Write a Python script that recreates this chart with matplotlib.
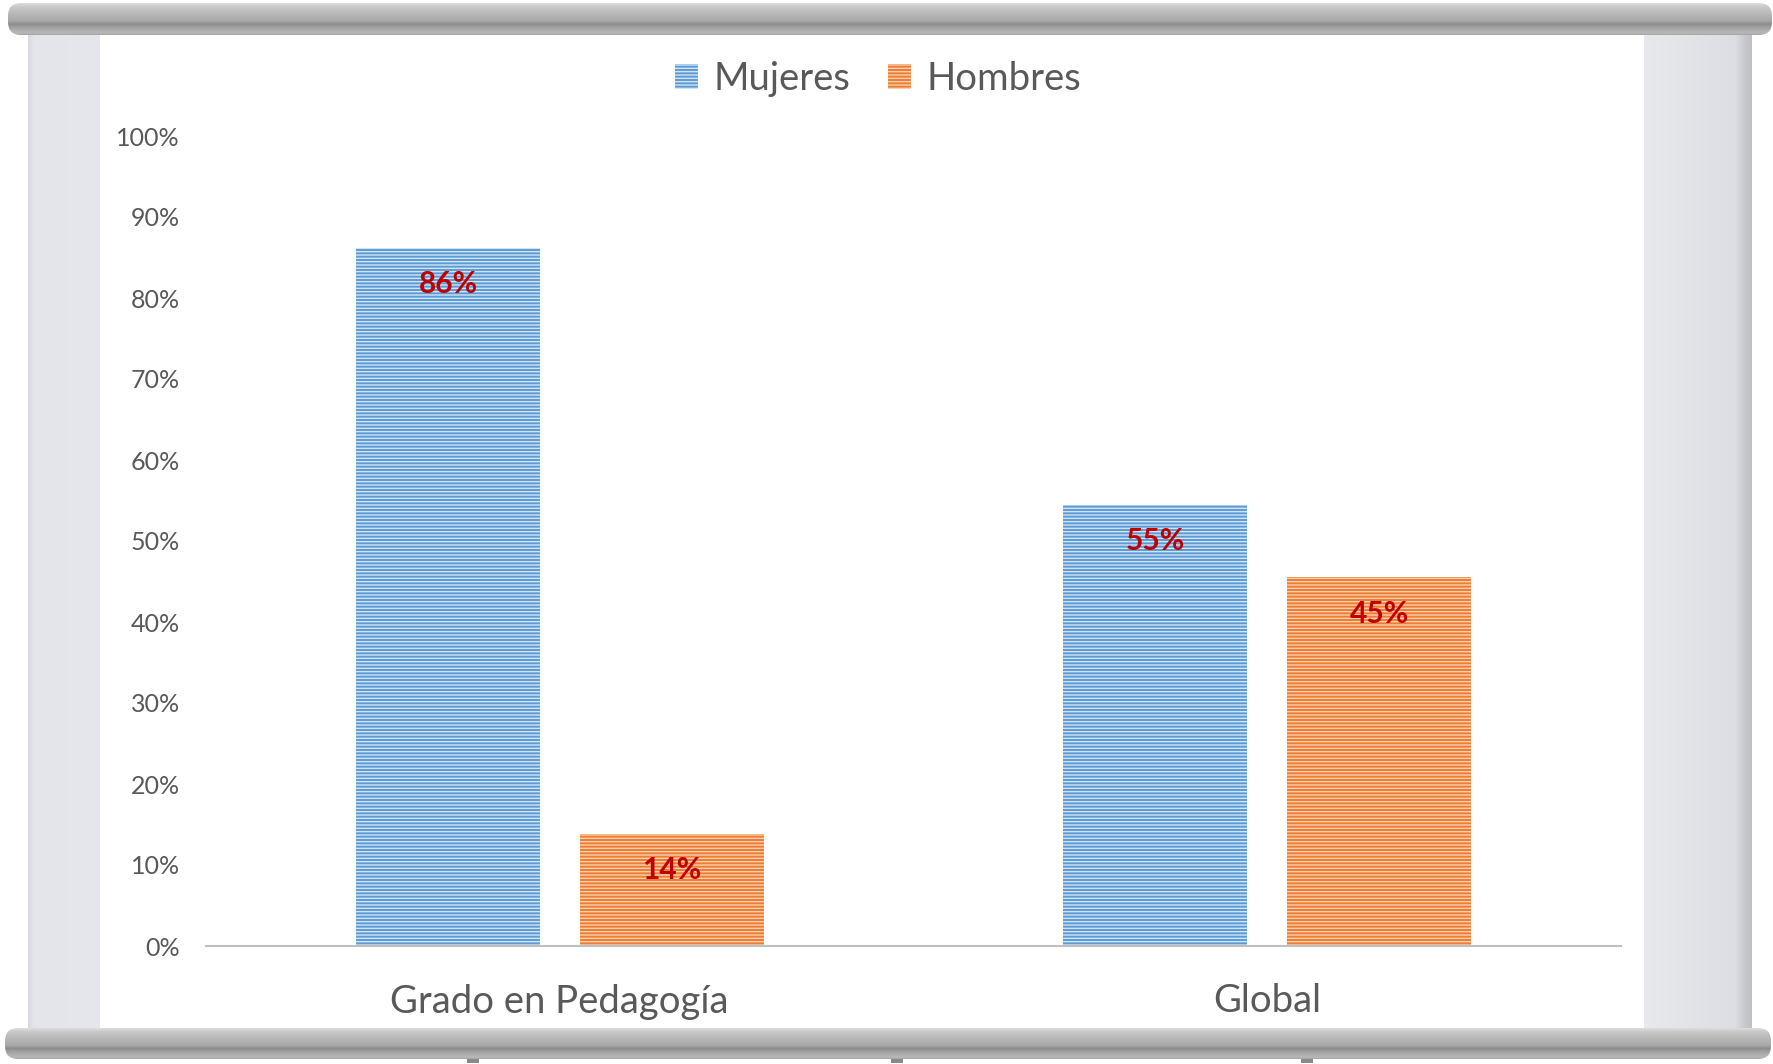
import numpy as np
import matplotlib
matplotlib.use("Agg")
import matplotlib.pyplot as plt
from matplotlib.patches import Rectangle, FancyBboxPatch, Patch
from matplotlib.colors import LinearSegmentedColormap
from matplotlib.ticker import PercentFormatter

# ---- data ----
categories = ["Grado en Pedagogía", "Global"]
series_names = ["Mujeres", "Hombres"]
mujeres = [0.862, 0.545]
hombres = [0.138, 0.455]
labels_mujeres = ["86%", "55%"]
labels_hombres = ["14%", "45%"]
yticks = [i / 10 for i in range(11)]

W, H = 1774, 1064
plt.rcParams["font.family"] = ["Lato", "DejaVu Sans"]
plt.rcParams["hatch.linewidth"] = 1.0
fig = plt.figure(figsize=(W / 100, H / 100), dpi=100)
fig.patch.set_facecolor("white")

# ---- background "projector screen" frame ----
bg = fig.add_axes([0, 0, 1, 1], zorder=-5)
bg.set_xlim(0, W)
bg.set_ylim(H, 0)
bg.axis("off")


def grad_patch(x0, y0, x1, y1, stops, rounding=0, horizontal=False, z=1):
    pos = [s[0] for s in stops]
    cols = [s[1] for s in stops]
    cmap = LinearSegmentedColormap.from_list("g", list(zip(pos, cols)))
    n = 256
    arr = np.linspace(0, 1, n)
    arr = arr[None, :] if horizontal else arr[:, None]
    im = bg.imshow(arr, cmap=cmap, extent=(x0, x1, y1, y0), aspect="auto",
                   interpolation="bilinear", zorder=z, vmin=0, vmax=1)
    if rounding:
        p = FancyBboxPatch((x0, y0), x1 - x0, y1 - y0,
                           boxstyle=f"round,pad=0,rounding_size={rounding}",
                           transform=bg.transData, facecolor="none", edgecolor="none")
    else:
        p = Rectangle((x0, y0), x1 - x0, y1 - y0, transform=bg.transData,
                      facecolor="none", edgecolor="none")
    bg.add_patch(p)
    im.set_clip_path(p)


# side panels
grad_patch(28, 30, 101, 1032, [(0, "#d9dadf"), (0.08, "#e4e5ea"), (1, "#e6e7ec")], horizontal=True, z=1)
grad_patch(1643, 30, 1752, 1032, [(0, "#e8e9ed"), (0.85, "#dddee3"), (0.93, "#c9cace"), (1, "#bfc0c4")], horizontal=True, z=1)
# white screen
bg.add_patch(Rectangle((100, 32), 1544, 1006, facecolor="white", edgecolor="none", zorder=2))
bg.add_patch(Rectangle((100, 1034), 1544, 5, facecolor="#e2e2e2", edgecolor="none", zorder=2))

bar_stops = [(0, "#dedede"), (0.12, "#c8c8c8"), (0.35, "#b6b6b6"), (0.55, "#aaaaaa"),
             (0.66, "#8c8c8c"), (0.72, "#999999"), (0.85, "#aeaeae"), (0.95, "#b8b8b8"), (1, "#a0a0a0")]
# top roller
grad_patch(8, 3, 1772, 35, bar_stops, rounding=13, z=3)
# bottom roller
grad_patch(5, 1028, 1771, 1059, bar_stops, rounding=13, z=3)
# little feet under the bottom roller
for fx in (473, 897, 1307):
    bg.add_patch(Rectangle((fx - 6, 1059), 12, 4, facecolor="#8a8a8a", edgecolor="none", zorder=3))

# ---- main chart ----
ax = fig.add_axes([206 / W, 1 - 946 / H, (1621 - 206) / W, (946 - 136) / H], zorder=2)
ax.patch.set_visible(False)

x = np.arange(len(categories))
bw = 0.26
off = 0.158
blue, blue_h = "#5B9BD5", "#d3e4f4"
orange, orange_h = "#ED7D31", "#f9cfb2"

b1 = ax.bar(x - off, mujeres, bw, color=blue, edgecolor=blue_h, linewidth=0, hatch="-----", zorder=2)
b2 = ax.bar(x + off, hombres, bw, color=orange, edgecolor=orange_h, linewidth=0, hatch="-----", zorder=2)

for bars, labs in ((b1, labels_mujeres), (b2, labels_hombres)):
    for rect, lab in zip(bars, labs):
        ax.annotate(lab, (rect.get_x() + rect.get_width() / 2, rect.get_height()),
                    xytext=(0, -26), textcoords="offset points", ha="center", va="center",
                    color="#C00000", fontsize=21.5, fontweight="bold", zorder=3)

ax.set_xlim(-0.5, len(categories) - 0.5)
ax.set_ylim(0, 1)
ax.set_yticks(yticks)
ax.yaxis.set_major_formatter(PercentFormatter(1.0, decimals=0))
ax.set_xticks(x)
ax.set_xticklabels(categories)
ax.tick_params(axis="y", length=0, pad=19, labelsize=18, labelcolor="#595959")
ax.tick_params(axis="x", length=0, pad=27, labelsize=27.5, labelcolor="#595959")
for s in ("top", "right", "left"):
    ax.spines[s].set_visible(False)
ax.spines["bottom"].set_color("#bfbfbf")
ax.spines["bottom"].set_linewidth(1.5)

handles = [Patch(facecolor=blue, edgecolor=blue_h, linewidth=0, hatch="-----", label=series_names[0]),
           Patch(facecolor=orange, edgecolor=orange_h, linewidth=0, hatch="-----", label=series_names[1])]
leg = fig.legend(handles=handles, loc="center", bbox_to_anchor=(878 / W, 1 - 79 / H),
                 ncol=2, frameon=False, fontsize=27.5, handlelength=0.6, handleheight=0.6,
                 handletextpad=0.4, columnspacing=1.0, labelcolor="#595959")

fig.savefig("out.png", dpi=100, facecolor="white")
